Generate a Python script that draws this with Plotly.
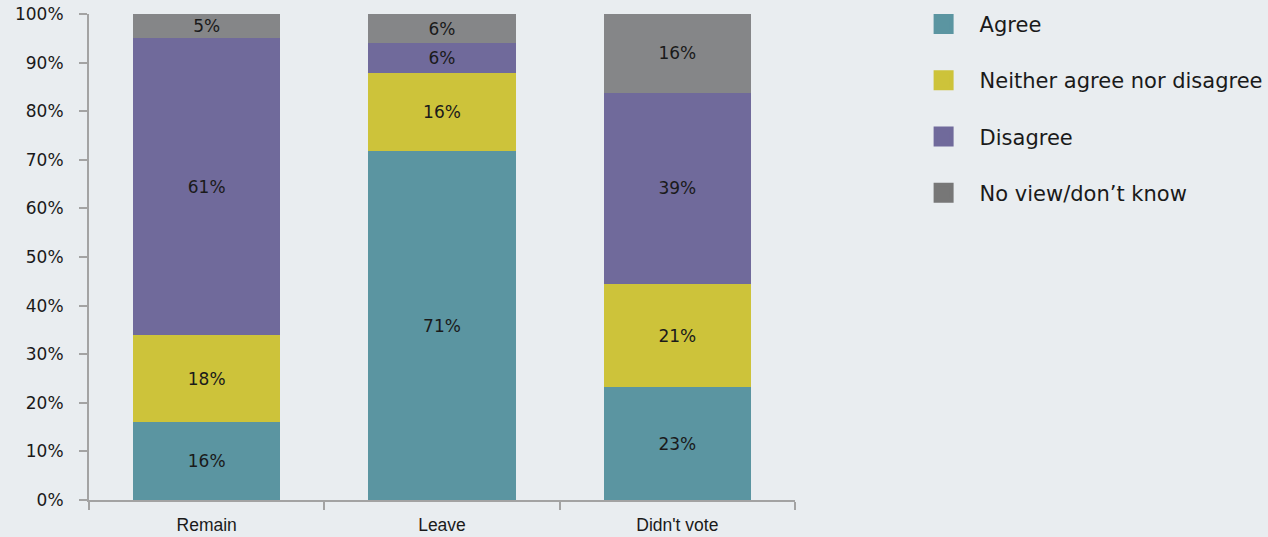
import plotly.graph_objects as go

# Survey responses by referendum vote (percent of each group)
groups = ["Remain", "Leave", "Didn't vote"]
responses = ["Agree", "Neither agree nor disagree", "Disagree", "No view/don\u2019t know"]
agree = [16, 71, 23]
neither = [18, 16, 21]
disagree = [61, 6, 39]
no_view = [5, 6, 16]
y_ticks = list(range(0, 101, 10))

bar_colors = ["#5b95a1", "#cdc33a", "#706a9b", "#858688"]
legend_colors = ["#5b95a1", "#cdc33a", "#706a9b", "#777777"]
series = [agree, neither, disagree, no_view]

FONT = "'DejaVu Sans', sans-serif"
CAT_FONT = "'Liberation Sans', Arial, sans-serif"
AXIS_GRAY = "#a3a3a3"
BG = "#e9edf0"
TXT = "#1a1a1a"

fig = go.Figure()

for name, vals, col in zip(responses, series, bar_colors):
    fig.add_trace(go.Bar(
        x=groups,
        y=vals,
        name=name,
        marker=dict(color=col, line=dict(width=0)),
        text=[f"{v}%" for v in vals],
        textposition="inside",
        insidetextanchor="middle",
        textangle=0,
        constraintext="none",
        textfont=dict(family=FONT, size=17, color=TXT),
        showlegend=False,
        hoverinfo="skip",
    ))

# Legend entries with larger square swatches
for i, (name, col) in enumerate(zip(responses, legend_colors)):
    fig.add_trace(go.Scatter(
        x=[None], y=[None],
        mode="markers",
        name=name,
        legendgroup=f"g{i}",
        marker=dict(symbol="square", size=20, color=col,
                    line=dict(width=4, color=col)),
        showlegend=True,
    ))

fig.update_layout(
    barmode="stack",
    barnorm="percent",
    bargap=0.373,
    width=1268,
    height=537,
    margin=dict(l=89, r=473, t=14, b=37, autoexpand=False),
    paper_bgcolor=BG,
    plot_bgcolor=BG,
    font=dict(family=FONT, size=17, color=TXT),
    legend=dict(
        x=1.1595, y=1.021,
        xanchor="left", yanchor="top",
        bgcolor="rgba(0,0,0,0)",
        tracegroupgap=26,
        traceorder="grouped",
        font=dict(family=FONT, size=21, color=TXT),
        itemwidth=62,
    ),
    xaxis=dict(
        showline=True, linecolor=AXIS_GRAY, linewidth=2,
        ticks="outside", tickson="boundaries", ticklen=8,
        tickcolor=AXIS_GRAY, tickwidth=2,
        showgrid=False, zeroline=False,
        ticklabelstandoff=8,
        tickfont=dict(family=CAT_FONT, size=17.5, color=TXT),
    ),
    yaxis=dict(
        range=[0, 100],
        tickmode="array",
        tickvals=y_ticks,
        ticktext=[f"{v}%" for v in y_ticks],
        showline=True, linecolor=AXIS_GRAY, linewidth=2,
        ticks="outside", ticklen=8, tickcolor=AXIS_GRAY, tickwidth=2,
        showgrid=False, zeroline=False,
        ticklabelstandoff=12,
        tickfont=dict(family=FONT, size=17, color=TXT),
    ),
)

fig.write_html("out.html")
